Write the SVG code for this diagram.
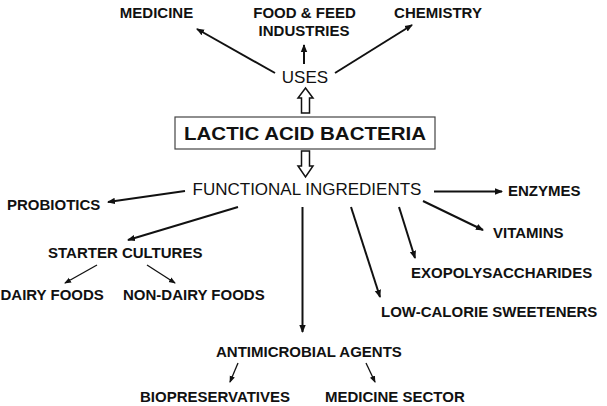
<svg xmlns="http://www.w3.org/2000/svg" width="607" height="406" viewBox="0 0 607 406">
<style>
  .b { font-family: "Liberation Sans", Arial, sans-serif; font-weight: bold; font-size: 15px; fill: #111; }
  .r { font-family: "Liberation Sans", Arial, sans-serif; font-size: 17px; fill: #111; }
  .t { font-family: "Liberation Sans", Arial, sans-serif; font-weight: bold; font-size: 18px; fill: #111; }
  .c { stroke: #111; stroke-width: 2; fill: none; marker-end: url(#ah); }
  .cs { stroke: #111; stroke-width: 1.3; fill: none; marker-end: url(#ahs); }
  .h { fill: #fff; stroke: #111; stroke-width: 1.5; }
</style>
<defs>
  <marker id="ah" markerWidth="8" markerHeight="8" refX="7" refY="4" orient="auto" markerUnits="userSpaceOnUse">
    <path d="M0,0.8 L8,4 L0,7.2 Z" fill="#111"/>
  </marker>
  <marker id="ahs" markerWidth="7" markerHeight="7" refX="6" refY="3.5" orient="auto" markerUnits="userSpaceOnUse">
    <path d="M0,0.8 L7,3.5 L0,6.2 Z" fill="#111"/>
  </marker>
</defs>
<rect width="607" height="406" fill="#fff"/>

<g id="connectors">
  <line class="c" x1="275" y1="73" x2="197" y2="29"/>
  <line class="c" x1="304" y1="64" x2="304" y2="45"/>
  <line class="c" x1="335" y1="73" x2="412" y2="25"/>
  <polygon class="h" points="305.5,88 313,98 309.5,98 309.5,113 301.5,113 301.5,98 298,98"/>
  <polygon class="h" points="301.5,151 309.5,151 309.5,166 313,166 305.5,177 298,166 301.5,166"/>
  <line class="c" x1="185" y1="191" x2="108" y2="202"/>
  <line class="c" x1="238" y1="207" x2="128" y2="240"/>
  <line class="cs" x1="97" y1="265" x2="65" y2="283"/>
  <line class="cs" x1="147" y1="265" x2="175" y2="283"/>
  <line class="c" x1="302.5" y1="207" x2="302.5" y2="332"/>
  <line class="cs" x1="238" y1="363" x2="230" y2="382"/>
  <line class="cs" x1="366" y1="363" x2="375" y2="382"/>
  <line class="c" x1="434" y1="191.5" x2="502" y2="191.5"/>
  <line class="c" x1="423" y1="201" x2="483" y2="230"/>
  <line class="c" x1="399" y1="207" x2="415" y2="258"/>
  <line class="c" x1="351" y1="207" x2="380" y2="297"/>
</g>

<g id="lab">
  <rect x="175" y="117" width="260" height="32" fill="#fff" stroke="#444" stroke-width="1.2"/>
  <text class="t" x="305" y="140" text-anchor="middle" textLength="242" lengthAdjust="spacingAndGlyphs">LACTIC ACID BACTERIA</text>
</g>
<g id="uses"><text class="r" x="305" y="83" text-anchor="middle">USES</text></g>
<g id="medicine"><text class="b" x="156.5" y="18" text-anchor="middle">MEDICINE</text></g>
<g id="food"><text class="b" x="304.5" y="18" text-anchor="middle">FOOD &amp; FEED</text><text class="b" x="304" y="36" text-anchor="middle">INDUSTRIES</text></g>
<g id="chemistry"><text class="b" x="438" y="18" text-anchor="middle">CHEMISTRY</text></g>
<g id="functional"><text class="r" x="307" y="195" text-anchor="middle">FUNCTIONAL INGREDIENTS</text></g>
<g id="probiotics"><text class="b" x="7" y="210">PROBIOTICS</text></g>
<g id="starter"><text class="b" x="48" y="258">STARTER CULTURES</text></g>
<g id="dairy"><text class="b" x="0.5" y="300">DAIRY FOODS</text></g>
<g id="nondairy"><text class="b" x="123" y="300">NON-DAIRY FOODS</text></g>
<g id="antimicrobial"><text class="b" x="216" y="357">ANTIMICROBIAL AGENTS</text></g>
<g id="biopreservatives"><text class="b" x="140" y="402">BIOPRESERVATIVES</text></g>
<g id="medsector"><text class="b" x="325" y="402">MEDICINE SECTOR</text></g>
<g id="enzymes"><text class="b" x="508" y="196">ENZYMES</text></g>
<g id="vitamins"><text class="b" x="493" y="238">VITAMINS</text></g>
<g id="exo"><text class="b" x="411" y="278">EXOPOLYSACCHARIDES</text></g>
<g id="lowcal"><text class="b" x="381" y="317">LOW-CALORIE SWEETENERS</text></g>
</svg>
